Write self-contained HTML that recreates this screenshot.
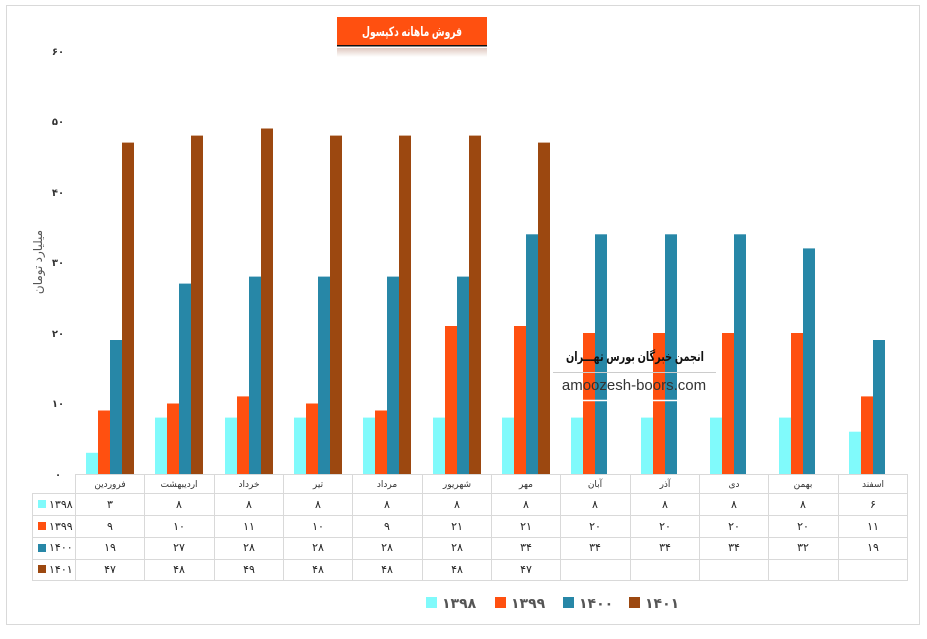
<!DOCTYPE html>
<html><head><meta charset="utf-8"><style>
body{margin:0;background:#fff;}
text{font-family:"Liberation Sans","DejaVu Sans",sans-serif;}
</style></head><body>
<svg width="927" height="634" viewBox="0 0 927 634" xmlns="http://www.w3.org/2000/svg">
<rect x="6.5" y="5.5" width="913" height="619" fill="#fff" stroke="#d9d9d9"/>
<defs><linearGradient id="rf" x1="0" y1="0" x2="0" y2="1"><stop offset="0" stop-color="#e0c8c0"/><stop offset="1" stop-color="#fff"/></linearGradient></defs>
<rect x="337" y="17" width="150" height="29" fill="#ff5010"/>
<rect x="337" y="45" width="150" height="1.5" fill="#111"/>
<rect x="337" y="48" width="150" height="9" fill="url(#rf)"/>
<text x="412" y="36" text-anchor="middle" font-size="13" font-weight="bold" fill="#fff" textLength="100" lengthAdjust="spacingAndGlyphs">فروش ماهانه دکپسول</text>
<g font-size="10" font-weight="bold" fill="#333" text-anchor="middle">
<text x="58" y="55">۶۰</text><text x="58" y="125">۵۰</text><text x="58" y="196">۴۰</text><text x="58" y="266">۳۰</text><text x="58" y="337">۲۰</text><text x="58" y="407">۱۰</text><text x="58" y="478">۰</text>
</g>
<text transform="translate(42,262) rotate(-90)" text-anchor="middle" font-size="12" fill="#555">میلیارد تومان</text>
<g fill="#80fafb">
<rect x="86" y="452.8" width="12" height="21.2"/><rect x="155" y="417.6" width="12" height="56.4"/><rect x="225" y="417.6" width="12" height="56.4"/><rect x="294" y="417.6" width="12" height="56.4"/><rect x="363" y="417.6" width="12" height="56.4"/><rect x="433" y="417.6" width="12" height="56.4"/><rect x="502" y="417.6" width="12" height="56.4"/><rect x="571" y="417.6" width="12" height="56.4"/><rect x="641" y="417.6" width="12" height="56.4"/><rect x="710" y="417.6" width="12" height="56.4"/><rect x="779" y="417.6" width="12" height="56.4"/><rect x="849" y="431.7" width="12" height="42.3"/>
</g>
<g fill="#ff5010">
<rect x="98" y="410.5" width="12" height="63.5"/><rect x="167" y="403.5" width="12" height="70.5"/><rect x="237" y="396.4" width="12" height="77.6"/><rect x="306" y="403.5" width="12" height="70.5"/><rect x="375" y="410.5" width="12" height="63.5"/><rect x="445" y="326" width="12" height="148"/><rect x="514" y="326" width="12" height="148"/><rect x="583" y="333" width="12" height="141"/><rect x="653" y="333" width="12" height="141"/><rect x="722" y="333" width="12" height="141"/><rect x="791" y="333" width="12" height="141"/><rect x="861" y="396.4" width="12" height="77.6"/>
</g>
<g fill="#2787a7">
<rect x="110" y="340" width="12" height="134"/><rect x="179" y="283.6" width="12" height="190.4"/><rect x="249" y="276.6" width="12" height="197.4"/><rect x="318" y="276.6" width="12" height="197.4"/><rect x="387" y="276.6" width="12" height="197.4"/><rect x="457" y="276.6" width="12" height="197.4"/><rect x="526" y="234.3" width="12" height="239.7"/><rect x="595" y="234.3" width="12" height="239.7"/><rect x="665" y="234.3" width="12" height="239.7"/><rect x="734" y="234.3" width="12" height="239.7"/><rect x="803" y="248.4" width="12" height="225.6"/><rect x="873" y="340" width="12" height="134"/>
</g>
<g fill="#9c4810">
<rect x="122" y="142.6" width="12" height="331.4"/><rect x="191" y="135.6" width="12" height="338.4"/><rect x="261" y="128.5" width="12" height="345.5"/><rect x="330" y="135.6" width="12" height="338.4"/><rect x="399" y="135.6" width="12" height="338.4"/><rect x="469" y="135.6" width="12" height="338.4"/><rect x="538" y="142.6" width="12" height="331.4"/>
</g>
<text x="635" y="361" text-anchor="middle" font-size="13" font-weight="bold" fill="#111" textLength="138" lengthAdjust="spacingAndGlyphs">انجمن خبرگان بورس تهـــران</text>
<line x1="553" y1="372.5" x2="716" y2="372.5" stroke="#ccc"/>
<text x="634" y="390" text-anchor="middle" font-size="15" fill="#333">amoozesh-boors.com</text>
<line x1="582" y1="400.5" x2="608" y2="400.5" stroke="#fff" stroke-width="1.5"/>
<line x1="652" y1="400.5" x2="677" y2="400.5" stroke="#fff" stroke-width="1.5"/>
<g stroke="#d9d9d9" stroke-width="1" fill="none">
<line x1="75" y1="474.5" x2="907" y2="474.5"/>
<line x1="32" y1="493.5" x2="907" y2="493.5"/>
<line x1="32" y1="515.5" x2="907" y2="515.5"/>
<line x1="32" y1="537.5" x2="907" y2="537.5"/>
<line x1="32" y1="559.5" x2="907" y2="559.5"/>
<line x1="32" y1="580.5" x2="907" y2="580.5"/>
<line x1="32.5" y1="493" x2="32.5" y2="581"/>
<line x1="75.5" y1="474" x2="75.5" y2="581"/><line x1="144.5" y1="474" x2="144.5" y2="581"/><line x1="214.5" y1="474" x2="214.5" y2="581"/><line x1="283.5" y1="474" x2="283.5" y2="581"/><line x1="352.5" y1="474" x2="352.5" y2="581"/><line x1="422.5" y1="474" x2="422.5" y2="581"/><line x1="491.5" y1="474" x2="491.5" y2="581"/><line x1="560.5" y1="474" x2="560.5" y2="581"/><line x1="630.5" y1="474" x2="630.5" y2="581"/><line x1="699.5" y1="474" x2="699.5" y2="581"/><line x1="768.5" y1="474" x2="768.5" y2="581"/><line x1="838.5" y1="474" x2="838.5" y2="581"/><line x1="907.5" y1="474" x2="907.5" y2="581"/>
</g>
<g font-size="9" fill="#333" text-anchor="middle">
<text x="110" y="487">فروردین</text><text x="179" y="487">اردیبهشت</text><text x="249" y="487">خرداد</text><text x="318" y="487">تیر</text><text x="387" y="487">مرداد</text><text x="457" y="487">شهریور</text><text x="526" y="487">مهر</text><text x="595" y="487">آبان</text><text x="665" y="487">آذر</text><text x="734" y="487">دی</text><text x="803" y="487">بهمن</text><text x="873" y="487">اسفند</text>
</g>
<g font-size="11" fill="#222" text-anchor="middle">
<text x="110" y="508">۳</text><text x="179" y="508">۸</text><text x="249" y="508">۸</text><text x="318" y="508">۸</text><text x="387" y="508">۸</text><text x="457" y="508">۸</text><text x="526" y="508">۸</text><text x="595" y="508">۸</text><text x="665" y="508">۸</text><text x="734" y="508">۸</text><text x="803" y="508">۸</text><text x="873" y="508">۶</text>
<text x="110" y="530">۹</text><text x="179" y="530">۱۰</text><text x="249" y="530">۱۱</text><text x="318" y="530">۱۰</text><text x="387" y="530">۹</text><text x="457" y="530">۲۱</text><text x="526" y="530">۲۱</text><text x="595" y="530">۲۰</text><text x="665" y="530">۲۰</text><text x="734" y="530">۲۰</text><text x="803" y="530">۲۰</text><text x="873" y="530">۱۱</text>
<text x="110" y="551">۱۹</text><text x="179" y="551">۲۷</text><text x="249" y="551">۲۸</text><text x="318" y="551">۲۸</text><text x="387" y="551">۲۸</text><text x="457" y="551">۲۸</text><text x="526" y="551">۳۴</text><text x="595" y="551">۳۴</text><text x="665" y="551">۳۴</text><text x="734" y="551">۳۴</text><text x="803" y="551">۳۲</text><text x="873" y="551">۱۹</text>
<text x="110" y="573">۴۷</text><text x="179" y="573">۴۸</text><text x="249" y="573">۴۹</text><text x="318" y="573">۴۸</text><text x="387" y="573">۴۸</text><text x="457" y="573">۴۸</text><text x="526" y="573">۴۷</text>
</g>
<rect x="38" y="500" width="8" height="8" fill="#80fafb"/><rect x="38" y="522" width="8" height="8" fill="#ff5010"/><rect x="38" y="544" width="8" height="8" fill="#2787a7"/><rect x="38" y="565" width="8" height="8" fill="#9c4810"/>
<g font-size="11" fill="#222">
<text x="49" y="508">۱۳۹۸</text><text x="49" y="530">۱۳۹۹</text><text x="49" y="551">۱۴۰۰</text><text x="49" y="573">۱۴۰۱</text>
</g>
<rect x="426" y="597" width="11" height="11" fill="#80fafb"/><rect x="495" y="597" width="11" height="11" fill="#ff5010"/><rect x="563" y="597" width="11" height="11" fill="#2787a7"/><rect x="629" y="597" width="11" height="11" fill="#9c4810"/>
<g font-size="14" font-weight="bold" fill="#555">
<text x="442" y="608">۱۳۹۸</text><text x="511" y="608">۱۳۹۹</text><text x="579" y="608">۱۴۰۰</text><text x="645" y="608">۱۴۰۱</text>
</g>
</svg>
</body></html>
